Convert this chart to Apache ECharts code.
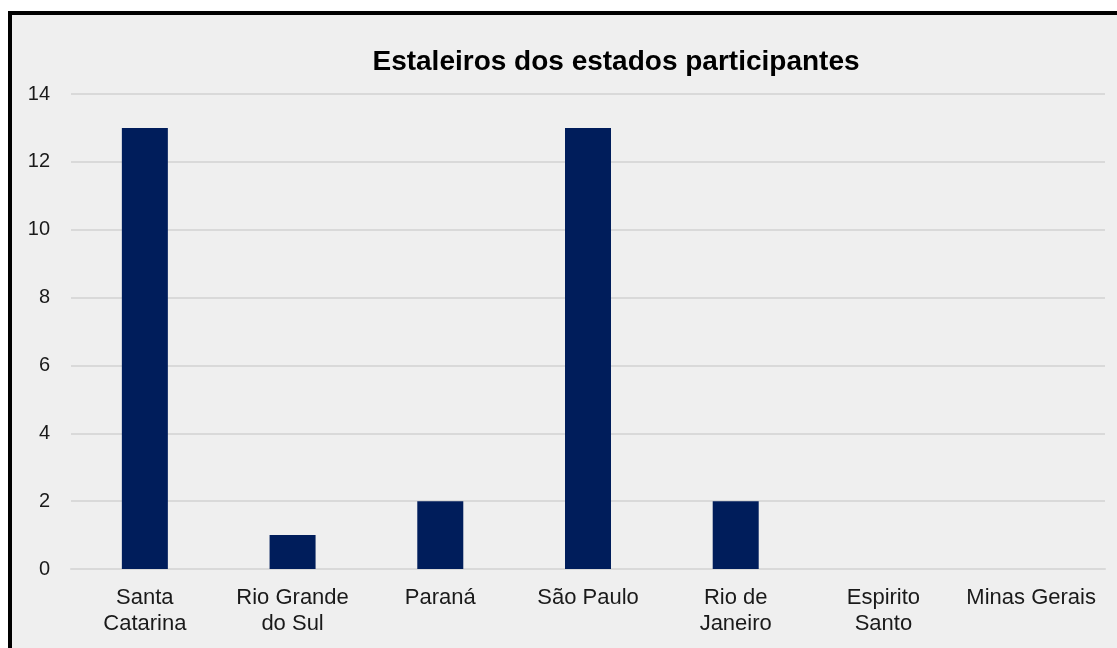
<!DOCTYPE html>
<html>
<head>
<meta charset="utf-8">
<script src="https://cdn.jsdelivr.net/npm/echarts@6/dist/echarts.min.js"></script>
<style>
  html, body { margin: 0; padding: 0; background: #fff; overflow: hidden; }
  #frame {
    position: absolute; left: 8px; top: 11px; width: 1200px; height: 700px;
    border: 4px solid #000; background: #efefef;
  }
  #main { position: absolute; left: 0; top: 0; width: 1117px; height: 648px; }
</style>
</head>
<body>
<div id="frame"></div>
<div id="main"></div>
<script>
// dados do gráfico
var estados = ['Santa\nCatarina', 'Rio Grande\ndo Sul', 'Paraná', 'São Paulo', 'Rio de\nJaneiro', 'Espirito\nSanto', 'Minas Gerais'];
var estaleiros = [13, 1, 2, 13, 2, 0, 0];
var titulo = 'Estaleiros dos estados participantes';

var chart = echarts.init(document.getElementById('main'));

var option = {
    backgroundColor: 'transparent',
    animation: false,
    title: {
        text: titulo,
        left: 611,
        textAlign: 'center',
        top: 43,
        textStyle: {
            fontFamily: 'Liberation Sans',
            fontSize: 28,
            fontWeight: 'bold',
            color: '#000'
        }
    },
    grid: {
        left: 71,
        right: 12,
        top: 94,
        bottom: 79
    },
    xAxis: {
        type: 'category',
        data: estados,
        axisLine: { lineStyle: { color: '#d9d9d9', width: 2 } },
        axisTick: { show: false },
        axisLabel: {
            interval: 0,
            margin: 16,
            color: '#1a1a1a',
            fontFamily: 'Liberation Sans',
            fontSize: 22,
            lineHeight: 26
        }
    },
    yAxis: {
        type: 'value',
        min: 0,
        max: 14,
        interval: 2,
        axisLine: { show: false },
        axisTick: { show: false },
        splitLine: { lineStyle: { color: '#d9d9d9', width: 2 } },
        axisLabel: {
            margin: 21,
            color: '#1a1a1a',
            fontFamily: 'Liberation Sans',
            fontSize: 20
        }
    },
    series: [{
        type: 'bar',
        data: estaleiros,
        barWidth: 46,
        itemStyle: { color: '#001d5b' }
    }]
};

chart.setOption(option);
</script>
</body>
</html>
